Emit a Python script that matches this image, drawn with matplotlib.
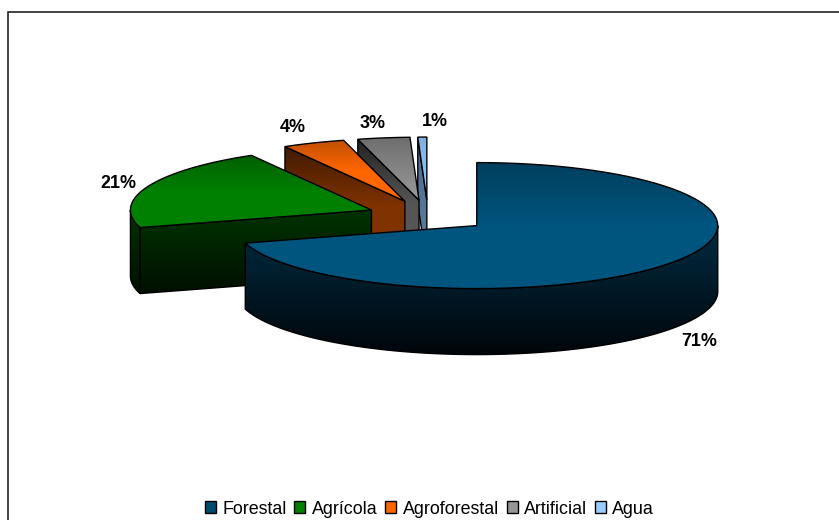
import numpy as np
import matplotlib
matplotlib.use("Agg")
import matplotlib.pyplot as plt
from matplotlib.patches import Patch, Polygon
from matplotlib.colors import LinearSegmentedColormap

plt.rcParams["font.family"] = ["Liberation Sans", "DejaVu Sans"]

categories = ["Forestal", "Agrícola", "Agroforestal", "Artificial", "Agua"]
shares = [70.51, 21.2, 4.2, 3.49, 0.6]
legend_colors = ["#004b70", "#008000", "#ff6600", "#969696", "#99ccff"]
label_x = [699, 118, 293, 373, 435]
label_y = [341, 183, 128, 124, 122]

top_shades = [("#003f5e", "#00557f", "#00557f"), ("#006000", "#008000", "#008000"),
              ("#c05000", "#ff6600", "#ff6600"), ("#6e6e6e", "#9a9a9a"),
              ("#7fb0e0", "#99ccff")]
wall_shades = [("#002c42", "#00060a"), ("#003300", "#000f00"),
               ("#401a00", "#803300", "#803300"), ("#222222", "#555555", "#555555"),
               ("#4a6c90", "#607f9f")]

# pie geometry, in image pixels
CX, CY = 428.0, 216.0
RX, RY = 241.0, 63.0
DEPTH = 66.0
EXPLODE = 61.0
FONT = 12.9


def gradient_face(ax, points, shades):
    """Fill a polygon with a vertical gradient and a black outline."""
    points = np.asarray(points)
    cmap = LinearSegmentedColormap.from_list("face", shades)
    x0, x1 = points[:, 0].min(), points[:, 0].max()
    y0, y1 = points[:, 1].min(), points[:, 1].max()
    grad = np.linspace(0, 1, 128).reshape(-1, 1)
    im = ax.imshow(grad, cmap=cmap, extent=(x0, x1, y1, y0), aspect="auto", zorder=2)
    outline = Polygon(points, closed=True, fill=False, edgecolor="black", linewidth=1.0, zorder=2)
    ax.add_patch(outline)
    im.set_clip_path(outline)


def rim(cx, cy, start, end):
    ang = np.radians(np.linspace(start, end, 80))
    return np.column_stack([cx + RX * np.sin(ang), cy - RY * np.cos(ang)])


fig = plt.figure(figsize=(8.39, 5.20), dpi=100)
ax = fig.add_axes([0, 0, 1, 1])
ax.axis("off")

edges = np.cumsum([0] + shares) / sum(shares) * 360
slices = []
for i, share in enumerate(shares):
    a0, a1 = edges[i], edges[i + 1]
    mid = np.radians((a0 + a1) / 2)
    apex_x = CX + EXPLODE * np.sin(mid)
    apex_y = CY - EXPLODE * np.cos(mid) * RY / RX
    slices.append((i, a0, a1, apex_x, apex_y))

# painter's order: back slices first, the big front slice last
for i, a0, a1, apex_x, apex_y in reversed(slices):
    arc = rim(apex_x, apex_y, a0, a1)
    apex = np.array([[apex_x, apex_y]])
    down = np.array([0, DEPTH])

    # radial wall on the clockwise-first side, seen from the front
    if 180 < a0 < 360:
        start_pt = arc[:1]
        wall = np.vstack([start_pt, apex, apex + down, start_pt + down])
        gradient_face(ax, wall, wall_shades[i])

    # outer rim, only the front half shows
    lo, hi = max(a0, 90), min(a1, 270)
    if lo < hi:
        front = rim(apex_x, apex_y, lo, hi)
        gradient_face(ax, np.vstack([front, (front + down)[::-1]]), wall_shades[i])

    gradient_face(ax, np.vstack([apex, arc]), top_shades[i])

for share, x, y in zip(shares, label_x, label_y):
    ax.text(x, y, f"{share:.0f}%", ha="center", va="center", fontsize=FONT,
            fontweight="bold", color="black", zorder=5)

# chart frame: only the top and left edges fall inside the crop
ax.plot([7.5, 7.5, 839], [520, 11.5, 11.5], color="#111111", linewidth=1.1, zorder=6,
        solid_joinstyle="miter")

handles = [Patch(facecolor=c, edgecolor="black", linewidth=1.0) for c in legend_colors]
ax.legend(handles, categories, loc="center", bbox_to_anchor=(429.5, 509),
          bbox_transform=ax.transData, ncols=5, frameon=False, fontsize=FONT,
          handlelength=0.6, handleheight=0.6, handletextpad=0.36, columnspacing=0.45,
          borderpad=0, borderaxespad=0, labelspacing=0)

ax.set_xlim(0, 839)
ax.set_ylim(520, 0)

fig.savefig("out.png", dpi=100)
